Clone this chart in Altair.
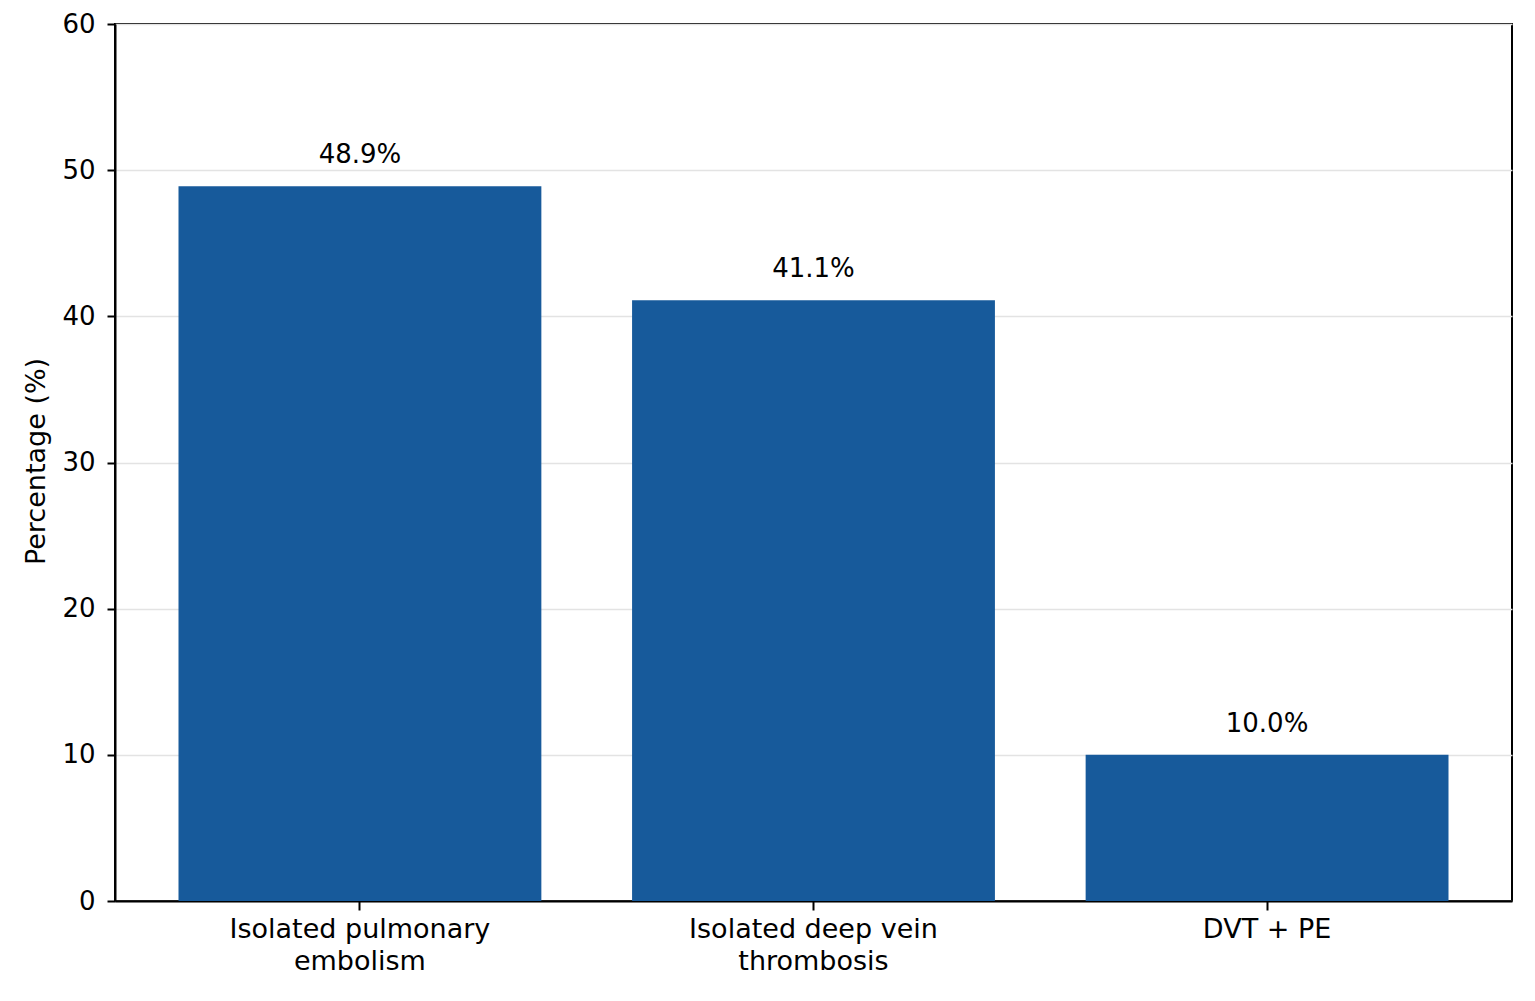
import altair as alt
import pandas as pd

categories = ["Isolated pulmonary|embolism", "Isolated deep vein|thrombosis", "DVT + PE"]
values = [48.9, 41.1, 10.0]
labels = ["48.9%", "41.1%", "10.0%"]

df = pd.DataFrame({"cat": categories, "val": values, "lab": labels})

FONT = "DejaVu Sans"
x = alt.X("cat:N", sort=categories, title=None,
          scale=alt.Scale(paddingInner=0.2, paddingOuter=0.14),
          axis=alt.Axis(labelAngle=0, labelExpr="split(datum.label, '|')",
                        labelFontSize=27, labelFont=FONT, labelColor="black",
                        labelLineHeight=32, labelPadding=6, labelLimit=0,
                        tickSize=9, tickWidth=2, tickColor="black",
                        domainColor="black", domainWidth=2, grid=False))
y = alt.Y("val:Q", title="Percentage (%)",
          scale=alt.Scale(domain=[0, 60], nice=False),
          axis=alt.Axis(values=[0, 10, 20, 30, 40, 50, 60],
                        labelFontSize=26, labelFont=FONT, labelColor="black",
                        labelPadding=12, tickSize=8, tickWidth=2, tickColor="black",
                        domainColor="black", domainWidth=2,
                        grid=True, gridColor="#e3e3e3", gridWidth=1.5,
                        titleFont=FONT, titleFontSize=27, titleFontWeight="normal",
                        titleColor="black", titleX=-79, titleY=437,
                        titleBaseline="middle", titleAlign="center", titleAngle=-90))

bars = alt.Chart(df).mark_bar(color="#175a9b").encode(x=x, y=y)
text = alt.Chart(df).mark_text(font=FONT, fontSize=26, color="black",
                               baseline="alphabetic", dy=-23).encode(
    x=alt.X("cat:N", sort=categories), y="val:Q", text="lab:N")

chart = (bars + text).properties(
    width=1397, height=877,
    autosize=alt.AutoSizeParams(type="none"),
    padding={"left": 107, "top": 16, "right": 10, "bottom": 90},
).configure(background="white").configure_view(stroke="black", strokeWidth=2)

chart.save("out.html", embed_options={"renderer": "svg", "actions": False})
